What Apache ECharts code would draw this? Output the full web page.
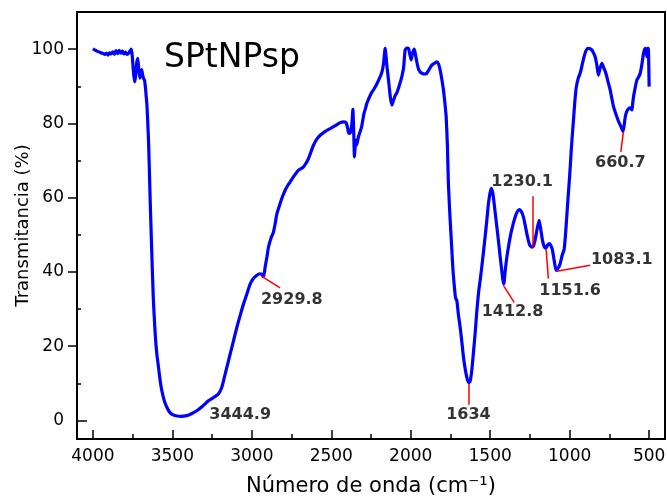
<!DOCTYPE html>
<html>
<head>
<meta charset="utf-8">
<script src="https://cdn.jsdelivr.net/npm/echarts@6.0.0/dist/echarts.min.js"></script>
<style>
html,body{margin:0;padding:0;background:#fff;}
#chart{width:667px;height:502px;}
</style>
</head>
<body>
<div id="chart"></div>
<script>
// Wavenumber (cm-1) and transmittance (%)
const wavenumber = [4000,3985,3970,3955,3940,3925,3915,3905,3895,3885,3875,3865,3855,3845,3835,3825,3815,3805,3795,3785,3775,3765,3758,3752,3745,3738,3732,3725,3718,3712,3705,3700,3693,3687,3681,3675,3670,3665,3660,3650,3640,3630,3620,3608,3598,3587,3576,3566,3550,3534,3515,3495,3471,3445,3409,3380,3346,3310,3273,3240,3210,3190,3178,3160,3136,3115,3094,3073,3052,3030,3010,2990,2968,2950,2937,2929,2922,2916,2905,2895,2880,2864,2853,2842,2822,2805,2790,2775,2759,2735,2706,2690,2675,2660,2643,2628,2612,2590,2570,2540,2507,2475,2444,2420,2406,2396,2390,2380,2370,2364,2359,2354,2350,2345,2340,2329,2318,2308,2295,2285,2276,2266,2250,2235,2215,2192,2180,2171,2161,2150,2140,2128,2119,2110,2098,2087,2070,2056,2045,2035,2024,2014,2005,1997,1988,1978,1970,1962,1950,1940,1930,1915,1899,1885,1867,1850,1836,1825,1815,1805,1794,1785,1777,1769,1763,1752,1741,1735,1727,1718,1710,1700,1689,1678,1668,1657,1647,1640,1634,1626,1616,1605,1595,1585,1574,1563,1553,1542,1532,1521,1511,1502,1494,1487,1480,1470,1458,1447,1437,1427,1417,1413,1405,1395,1382,1370,1356,1343,1330,1316,1303,1291,1278,1265,1252,1238,1230,1218,1205,1192,1182,1171,1160,1150,1138,1127,1117,1108,1097,1085,1072,1060,1047,1035,1027,1018,1010,1003,996,990,983,976,968,959,947,934,920,909,895,882,871,861,850,840,830,819,808,797,786,775,760,745,735,724,713,703,692,681,672,664,657,650,640,629,618,608,603,598,588,577,566,556,545,535,525,518,514,510,505,501,500];
const transmittance = [100.1,99.7,99.4,99.1,98.9,98.6,98.9,98.4,99.0,98.7,99.3,98.6,99.6,98.8,99.7,98.9,99.5,98.7,99.2,98.6,98.9,99.6,100.0,98.0,94.0,91.2,92.5,96.0,97.5,95.0,92.2,93.0,94.5,93.0,92.1,91.6,90.0,87.5,85.0,75.5,60.0,46.0,33.0,23.4,18.0,14.3,10.5,8.0,5.2,3.5,2.1,1.5,1.2,1.1,1.3,1.8,2.6,3.8,5.3,6.2,7.1,8.8,10.7,13.8,17.9,21.5,25.1,28.3,31.4,34.2,36.8,38.2,39.1,39.5,39.4,38.7,39.5,41.3,44.0,46.7,49.0,50.7,53.0,55.7,58.4,60.5,62.0,63.2,64.2,65.8,67.4,67.8,68.3,69.2,70.6,72.3,74.1,75.8,76.8,77.8,78.6,79.4,80.2,80.4,80.2,78.5,77.3,77.5,80.0,83.8,78.0,71.0,73.5,75.5,74.2,76.4,77.8,79.3,82.5,84.0,85.4,86.5,88.0,89.0,90.5,92.6,94.0,96.2,100.2,95.5,91.7,87.0,84.9,86.0,87.5,88.3,90.5,92.6,95.0,99.8,100.3,100.2,98.5,97.1,99.0,100.0,98.5,96.6,94.5,93.8,93.5,93.3,93.5,94.5,95.7,96.2,96.6,96.0,94.4,92.0,89.0,85.5,81.8,73.7,63.8,54.0,45.8,41.0,36.8,33.0,32.3,28.5,25.1,21.0,17.0,13.8,11.6,10.6,10.2,10.6,13.4,18.5,23.3,29.0,34.1,37.8,41.3,45.5,49.4,54.0,58.4,61.0,62.5,61.8,60.2,56.5,52.1,48.0,44.0,40.3,36.8,37.0,40.5,44.0,47.5,50.3,52.8,54.8,56.2,56.8,56.2,54.8,52.2,49.4,47.3,46.7,46.8,48.5,51.5,53.9,51.5,48.5,46.8,46.3,47.3,47.6,47.0,45.8,43.0,40.4,41.0,42.2,44.5,46.0,49.5,55.0,60.0,64.0,68.5,72.8,77.0,80.9,85.5,89.5,92.0,93.5,96.0,98.0,99.8,100.2,100.1,99.8,99.0,98.0,96.0,93.0,95.0,96.2,95.0,93.9,91.5,89.0,86.8,84.5,83.0,81.8,80.5,79.5,78.6,77.8,79.5,81.8,83.3,84.0,84.2,83.6,85.5,87.2,89.5,91.7,92.5,93.5,96.0,98.9,100.2,99.5,98.0,100.2,100.2,93.0,89.9];

// Axis ticks
const xMajorTicks = [500,1000,1500,2000,2500,3000,3500,4000];
const xMinorTicks = [750,1250,1750,2250,2750,3250,3750];
const yMajorTicks = [0,20,40,60,80,100];
const yOuterTicks = [20,40,60,80,100];
const yInnerTicks = [0];
const yMinorTicks = [10,30,50,70,90];

// Peak annotations
const peakNames = ['3444.9','2929.8','1634','1412.8','1230.1','1151.6','1083.1','660.7'];
const peakLabelAt = [[3073,1.6],[2748,32.6],[1637,1.6],[1359,29.2],[1299,64.3],[997,34.8],[672,43.2],[681,69.5]];
const peakLeaders = [null,[[2937,38.8],[2822,35.7]],[[1636,9.8],[1636,4.2]],[[1417,36.4],[1349,31.8]],[[1230,60.4],[1230,46.6]],[[1148,46.0],[1134,38.2]],[[1081,40.2],[871,41.8]],[[662,77.7],[678,72.3]]];

const FONT = 'DejaVu Sans';
const spectrum = wavenumber.map((w, i) => [w, transmittance[i]]);
const labelData = peakNames.map((n, i) => ({ value: peakLabelAt[i], name: n }));
const leaderData = peakLeaders.filter(l => l).map(l => [{ coord: l[0] }, { coord: l[1] }]);
const plain = v => String(v);

const chart = echarts.init(document.getElementById('chart'), null, { renderer: 'canvas' });
const xRange = { min: 400, max: 4100, inverse: true, type: 'value', splitLine: { show: false } };
const yRange = { min: -5, max: 110, type: 'value', splitLine: { show: false } };
const axisLine = { show: true, onZero: false, lineStyle: { color: '#000', width: 2 } };
const tickStyle = { color: '#000', width: 1.5 };
const bareY = (ticks, inside, len) => Object.assign({}, yRange, {
  position: 'left',
  axisLine: { show: false, onZero: false },
  axisTick: { show: true, inside: inside, length: len, lineStyle: tickStyle, customValues: ticks },
  axisLabel: { show: false }
});

chart.setOption({
  animation: false,
  backgroundColor: '#fff',
  grid: {
    left: 77, right: 2, top: 12, bottom: 63, containLabel: false, outerBoundsMode: 'none',
    show: true, borderColor: '#000', borderWidth: 2, backgroundColor: 'transparent'
  },
  title: {
    text: 'SPtNPsp', left: 164, top: 42, padding: 0,
    textStyle: { fontFamily: FONT, fontSize: 33, fontWeight: 'normal', color: '#000' }
  },
  xAxis: [
    Object.assign({}, xRange, {
      position: 'bottom',
      axisLine: axisLine,
      axisTick: { show: true, inside: true, length: 9, lineStyle: tickStyle, customValues: xMajorTicks },
      axisLabel: { show: true, customValues: xMajorTicks, formatter: plain, margin: 9, color: '#000', fontFamily: FONT, fontSize: 17 },
      name: 'Número de onda (cm⁻¹)', nameLocation: 'middle', nameGap: 37,
      nameTextStyle: { fontFamily: FONT, fontSize: 21, color: '#000' }
    }),
    Object.assign({}, xRange, {
      position: 'bottom',
      axisLine: { show: false, onZero: false },
      axisTick: { show: true, inside: true, length: 5, lineStyle: tickStyle, customValues: xMinorTicks },
      axisLabel: { show: false }
    })
  ],
  yAxis: [
    Object.assign({}, yRange, {
      position: 'left',
      axisLine: axisLine,
      axisTick: { show: true, inside: false, length: 9, lineStyle: tickStyle, customValues: yOuterTicks },
      axisLabel: { show: true, customValues: yMajorTicks, formatter: plain, margin: 13, color: '#000', fontFamily: FONT, fontSize: 17 },
      name: 'Transmitancia (%)', nameLocation: 'middle', nameGap: 45, nameMoveOverlap: false,
      nameTextStyle: { fontFamily: FONT, fontSize: 18, color: '#000' }
    }),
    bareY(yMinorTicks, true, 4),
    bareY(yInnerTicks, true, 10)
  ],
  series: [
    {
      type: 'line', name: 'SPtNPsp', xAxisIndex: 0, yAxisIndex: 0,
      data: spectrum, showSymbol: false, symbol: 'none', smooth: 0.2,
      lineStyle: { color: '#0000ff', width: 3.2 }, z: 3,
      markLine: {
        silent: true, symbol: ['none', 'none'], animation: false,
        lineStyle: { color: '#ff0000', width: 1.5, type: 'solid' },
        label: { show: false },
        data: leaderData
      }
    },
    {
      type: 'scatter', xAxisIndex: 0, yAxisIndex: 0,
      data: labelData, symbolSize: 0, silent: true, z: 5,
      label: {
        show: true, position: 'inside', formatter: p => p.name,
        fontFamily: FONT, fontSize: 16, fontWeight: 'bold', color: '#000'
      }
    }
  ]
});
</script>
</body>
</html>
